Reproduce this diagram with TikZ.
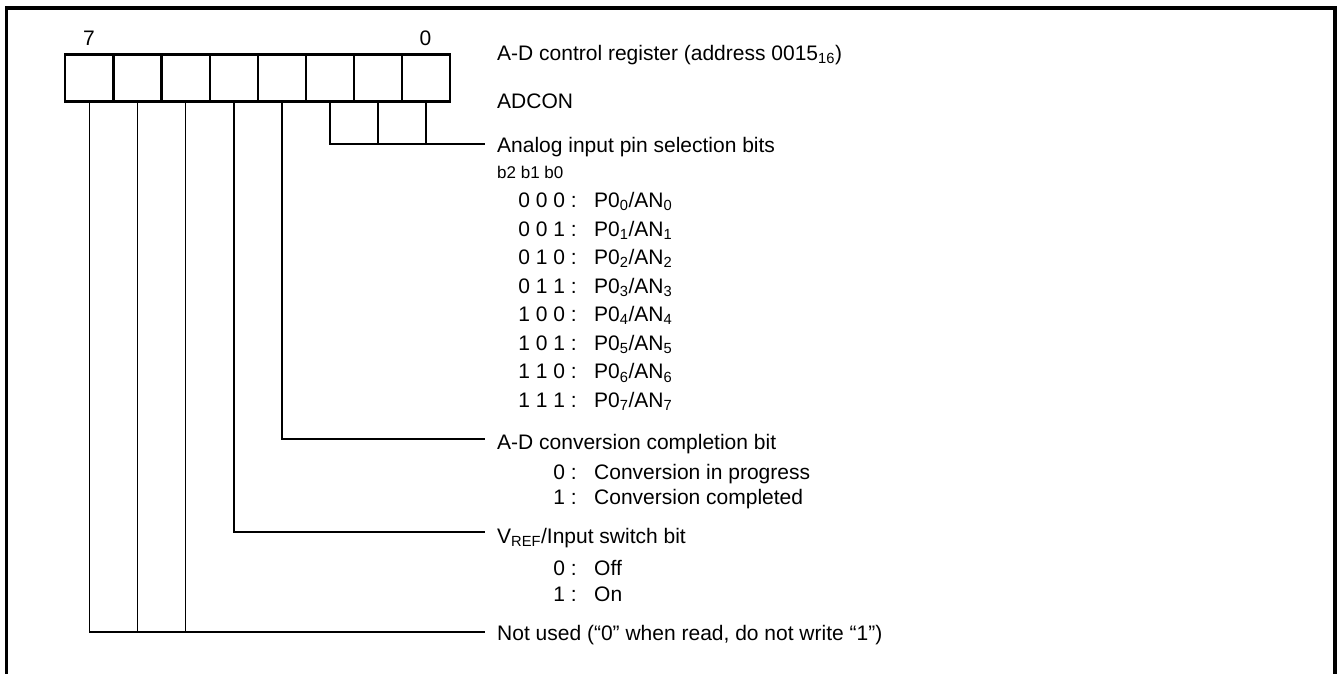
\documentclass[tikz,border=0pt]{standalone}
\usepackage{fontspec}
\setmainfont{Liberation Sans}
\begin{document}
\begin{tikzpicture}[x=1pt,y=-1pt,
  cell/.style={draw,line width=2.2pt,minimum width=48.1pt,minimum height=47pt,inner sep=0pt,outer sep=0pt},
  wire/.style={line width=1.7pt},
  frame/.style={line width=3.8pt},
  lbl/.style={anchor=base west,inner sep=0pt,font=\fontsize{21}{25}\selectfont},
  lble/.style={anchor=base east,inner sep=0pt,font=\fontsize{21}{25}\selectfont},
  sml/.style={anchor=base west,inner sep=0pt,font=\fontsize{17}{20}\selectfont},
  bitno/.style={anchor=center,inner sep=0pt,font=\fontsize{21}{25}\selectfont}]
\useasboundingbox (0,0) rectangle (1337,673);
% frame (open at the bottom)
\draw[frame] (6.5,675) -- (6.5,8) -- (1334.7,8) -- (1334.7,675);
% register cells
\foreach \i in {0,...,7}
  \node[cell] (c\i) at ({65.3+24.05+48.1*(7-\i)},78) {};
\node[bitno] (n7) at (89,38) {7};
\node[bitno] (n0) at (425.5,38) {0};
% headings
\node[lbl] (title) at (497,60.5) {A-D control register (address 0015\textsubscript{16})};
\node[lbl] (name) at (497,108.5) {ADCON};
% connector ends
\coordinate (e0) at (485,144);
\coordinate (e3) at (485,439);
\coordinate (e4) at (485,532);
\coordinate (e7) at (485,632);
% bits 2..0
\draw[wire] (c2.south) |- (e0);
\draw[wire] (c1.south) -- (c1.south |- e0);
\draw[wire] (c0.south) -- (c0.south |- e0);
% bit 3
\draw[wire] (c3.south) |- (e3);
% bit 4
\draw[wire] (c4.south) |- (e4);
% bits 7..5
\draw[wire] (c7.south) |- (e7);
\draw[wire] (c6.south) -- (c6.south |- e7);
\draw[wire] (c5.south) -- (c5.south |- e7);
% analog input
\node[lbl] (t0) at (497,152.5) {Analog input pin selection bits};
\node[sml] (hb) at (497,178) {b2 b1 b0};
\foreach \k/\code in {0/0 0 0,1/0 0 1,2/0 1 0,3/0 1 1,4/1 0 0,5/1 0 1,6/1 1 0,7/1 1 1} {
  \node[lble] (k\k) at (577,{207.5+28.57*\k}) {\code\ :};
  \node[lbl] (v\k) at (594,{207.5+28.57*\k}) {P0\textsubscript{\k}/AN\textsubscript{\k}};
}
% conversion completion
\node[lbl] (t3) at (497,449) {A-D conversion completion bit};
\node[lble] (a0) at (577,479.5) {0 :};
\node[lbl] (b0) at (594,479.5) {Conversion in progress};
\node[lble] (a1) at (577,504.5) {1 :};
\node[lbl] (b1) at (594,504.5) {Conversion completed};
% VREF
\node[lbl] (t4) at (497,543) {V\textsubscript{REF}/Input switch bit};
\node[lble] (d0) at (577,575.5) {0 :};
\node[lbl] (f0) at (594,575.5) {Off};
\node[lble] (d1) at (577,601) {1 :};
\node[lbl] (f1) at (594,601) {On};
% not used
\node[lbl] (t7) at (497,640) {Not used (“0” when read, do not write “1”)};
\end{tikzpicture}
\end{document}
